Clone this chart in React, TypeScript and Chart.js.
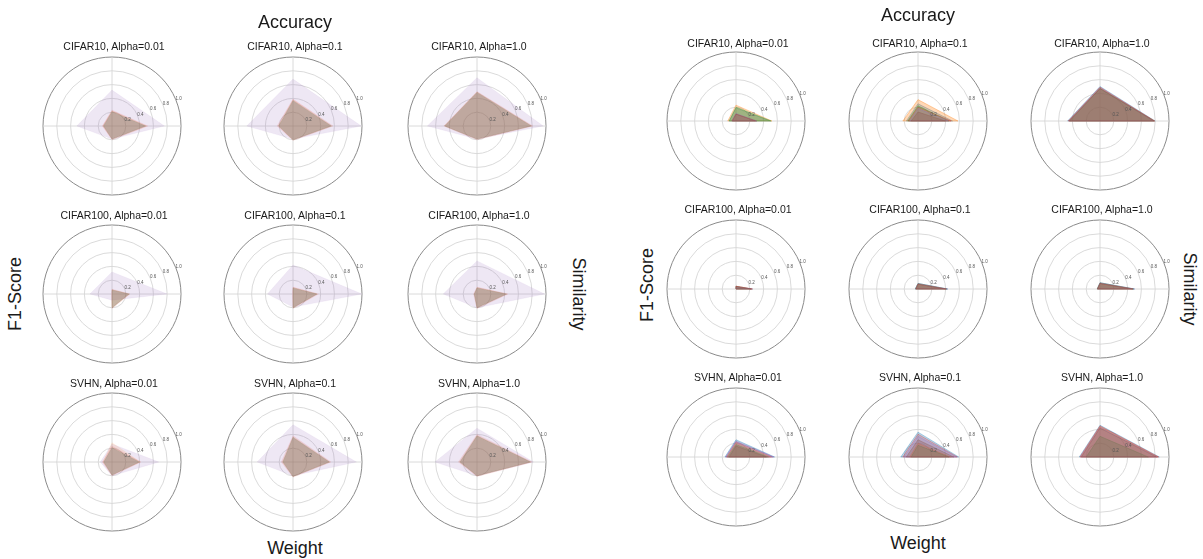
import React, { useEffect, useRef } from "react";
import { Chart, registerables } from "chart.js";

Chart.register(...registerables);

// ---------- data ----------
const AXES = ["Accuracy", "Similarity", "Weight", "F1-Score"]; // clockwise from top
const DATASET_NAMES = ["CIFAR10", "CIFAR100", "SVHN"];
const ALPHAS = ["0.01", "0.1", "1.0"];
const TICK_VALUES = [0.2, 0.4, 0.6, 0.8, 1.0];
const TICK_LABELS = ["0.2", "0.4", "0.6", "0.8", "1.0"];

// left panel series order (bottom to top): purple, blue, orange, green, red, brown
const LEFT_COLORS = ["#9467bd", "#1f77b4", "#ff7f0e", "#2ca02c", "#d62728", "#8c564b"];
// values: [Accuracy, Similarity, Weight, F1-Score]
const L_C10_001 = [
  [0.52, 0.76, 0.19, 0.51],
  [0.2, 0.48, 0.19, 0.12],
  [0.22, 0.5, 0.19, 0.13],
  [0.21, 0.49, 0.19, 0.12],
  [0.23, 0.52, 0.2, 0.14],
  [0.21, 0.49, 0.19, 0.13],
];
const L_C10_01 = [
  [0.68, 0.99, 0.19, 0.67],
  [0.36, 0.55, 0.2, 0.2],
  [0.38, 0.56, 0.2, 0.21],
  [0.37, 0.56, 0.2, 0.21],
  [0.39, 0.58, 0.21, 0.23],
  [0.37, 0.55, 0.2, 0.21],
];
const L_C10_10 = [
  [0.7, 0.96, 0.19, 0.72],
  [0.48, 0.78, 0.19, 0.46],
  [0.49, 0.79, 0.19, 0.47],
  [0.49, 0.79, 0.19, 0.47],
  [0.5, 0.81, 0.2, 0.48],
  [0.49, 0.79, 0.19, 0.47],
];
const L_C100_001 = [
  [0.32, 0.8, 0.09, 0.32],
  [0.05, 0.24, 0.2, 0.0],
  [0.06, 0.25, 0.2, 0.0],
  [0.06, 0.25, 0.2, 0.0],
  [0.07, 0.26, 0.21, 0.01],
  [0.06, 0.25, 0.2, 0.0],
];
const L_C100_01 = [
  [0.42, 1.0, 0.19, 0.37],
  [0.08, 0.34, 0.2, 0.0],
  [0.09, 0.35, 0.2, 0.0],
  [0.09, 0.35, 0.2, 0.0],
  [0.1, 0.37, 0.21, 0.01],
  [0.09, 0.35, 0.2, 0.0],
];
const L_C100_10 = [
  [0.48, 0.98, 0.2, 0.49],
  [0.08, 0.42, 0.2, 0.04],
  [0.09, 0.43, 0.2, 0.04],
  [0.09, 0.43, 0.2, 0.04],
  [0.1, 0.45, 0.21, 0.05],
  [0.09, 0.43, 0.2, 0.04],
];
const L_SVHN_001 = [
  [0.26, 0.68, 0.2, 0.17],
  [0.2, 0.39, 0.19, 0.12],
  [0.28, 0.41, 0.19, 0.13],
  [0.21, 0.4, 0.19, 0.12],
  [0.23, 0.42, 0.2, 0.14],
  [0.21, 0.4, 0.19, 0.12],
];
const L_SVHN_01 = [
  [0.54, 0.92, 0.2, 0.52],
  [0.35, 0.52, 0.21, 0.14],
  [0.36, 0.53, 0.21, 0.15],
  [0.36, 0.53, 0.21, 0.15],
  [0.38, 0.55, 0.22, 0.17],
  [0.36, 0.53, 0.21, 0.15],
];
const L_SVHN_10 = [
  [0.49, 0.82, 0.2, 0.61],
  [0.37, 0.77, 0.2, 0.24],
  [0.38, 0.78, 0.2, 0.25],
  [0.38, 0.78, 0.2, 0.25],
  [0.4, 0.8, 0.21, 0.27],
  [0.38, 0.78, 0.2, 0.25],
];

// right panel series order (bottom to top): blue, orange, green, red, purple, brown
const RIGHT_COLORS = ["#1f77b4", "#ff7f0e", "#2ca02c", "#d62728", "#9467bd", "#8c564b"];
const R_C10_001 = [
  [0.19, 0.5, 0.0, 0.1],
  [0.23, 0.52, 0.0, 0.12],
  [0.2, 0.51, 0.0, 0.1],
  [0.1, 0.28, 0.0, 0.05],
  [0.11, 0.3, 0.0, 0.06],
  [0.1, 0.3, 0.0, 0.06],
];
const R_C10_01 = [
  [0.25, 0.5, 0.0, 0.17],
  [0.31, 0.58, 0.0, 0.22],
  [0.22, 0.45, 0.0, 0.15],
  [0.2, 0.48, 0.0, 0.14],
  [0.18, 0.44, 0.0, 0.12],
  [0.13, 0.4, 0.0, 0.1],
];
const R_C10_10 = [
  [0.5, 0.8, 0.0, 0.47],
  [0.48, 0.79, 0.0, 0.45],
  [0.47, 0.78, 0.0, 0.44],
  [0.49, 0.79, 0.0, 0.46],
  [0.48, 0.78, 0.0, 0.45],
  [0.47, 0.79, 0.0, 0.45],
];
const R_C100_001 = [
  [0.04, 0.24, 0.0, 0.0],
  [0.04, 0.23, 0.0, 0.0],
  [0.03, 0.22, 0.0, 0.0],
  [0.04, 0.24, 0.0, 0.0],
  [0.03, 0.23, 0.0, 0.0],
  [0.04, 0.22, 0.0, 0.0],
];
const R_C100_01 = [
  [0.08, 0.43, 0.0, 0.04],
  [0.07, 0.41, 0.0, 0.03],
  [0.08, 0.42, 0.0, 0.04],
  [0.07, 0.4, 0.0, 0.03],
  [0.08, 0.43, 0.0, 0.04],
  [0.07, 0.41, 0.0, 0.03],
];
const R_C100_10 = [
  [0.09, 0.5, 0.0, 0.04],
  [0.08, 0.48, 0.0, 0.04],
  [0.09, 0.49, 0.0, 0.04],
  [0.08, 0.47, 0.0, 0.03],
  [0.09, 0.5, 0.0, 0.04],
  [0.08, 0.48, 0.0, 0.04],
];
const R_SVHN_001 = [
  [0.25, 0.56, 0.0, 0.16],
  [0.2, 0.5, 0.0, 0.13],
  [0.18, 0.47, 0.0, 0.12],
  [0.22, 0.53, 0.0, 0.14],
  [0.23, 0.55, 0.0, 0.15],
  [0.16, 0.44, 0.0, 0.1],
];
const R_SVHN_01 = [
  [0.36, 0.59, 0.0, 0.25],
  [0.2, 0.47, 0.0, 0.12],
  [0.17, 0.45, 0.0, 0.1],
  [0.33, 0.57, 0.0, 0.22],
  [0.3, 0.56, 0.0, 0.2],
  [0.25, 0.52, 0.0, 0.17],
];
const R_SVHN_10 = [
  [0.46, 0.86, 0.0, 0.3],
  [0.44, 0.84, 0.0, 0.28],
  [0.3, 0.7, 0.0, 0.2],
  [0.45, 0.85, 0.0, 0.29],
  [0.43, 0.83, 0.0, 0.28],
  [0.42, 0.82, 0.0, 0.27],
];

const LEFT_GRID = [
  [L_C10_001, L_C10_01, L_C10_10],
  [L_C100_001, L_C100_01, L_C100_10],
  [L_SVHN_001, L_SVHN_01, L_SVHN_10],
];
const RIGHT_GRID = [
  [R_C10_001, R_C10_01, R_C10_10],
  [R_C100_001, R_C100_01, R_C100_10],
  [R_SVHN_001, R_SVHN_01, R_SVHN_10],
];

// ---------- layout ----------
const LEFT_CX = [112, 293, 477];
const LEFT_CY = [126, 294, 462];
const RIGHT_CX = [736, 918, 1100];
const RIGHT_CY = [121, 289, 457];
const CANVAS = 150;
const PAD = 6;

const FONT = '"Liberation Sans", Arial, Helvetica, sans-serif';

function rgba(hex: string, a: number) {
  const n = parseInt(hex.slice(1), 16);
  return `rgba(${(n >> 16) & 255},${(n >> 8) & 255},${n & 255},${a})`;
}

const tickLabelPlugin = {
  id: "rTickLabels",
  afterDatasetsDraw(chart: any) {
    const s = chart.scales.r;
    const ctx = chart.ctx;
    ctx.save();
    ctx.font = `4.5px ${FONT}`;
    ctx.fillStyle = "#555";
    ctx.textAlign = "center";
    ctx.textBaseline = "middle";
    const ang = (22.5 * Math.PI) / 180;
    TICK_VALUES.forEach((v, i) => {
      const d = s.getDistanceFromCenterForValue(v) + 3;
      ctx.fillText(TICK_LABELS[i], s.xCenter + d * Math.cos(ang), s.yCenter - d * Math.sin(ang));
    });
    ctx.restore();
  },
};

type RadarProps = {
  cx: number;
  cy: number;
  series: number[][];
  colors: string[];
  fillA: number[];
  lineA: number;
  lineW: number;
};

function Radar({ cx, cy, series, colors, fillA, lineA, lineW }: RadarProps) {
  const ref = useRef<HTMLCanvasElement>(null);
  useEffect(() => {
    if (!ref.current) return;
    const chart = new Chart(ref.current, {
      type: "radar",
      data: {
        labels: AXES,
        datasets: series.map((vals, i) => ({
          data: vals,
          backgroundColor: rgba(colors[i], fillA[i]),
          borderColor: rgba(colors[i], lineA),
          borderWidth: lineW,
          pointRadius: 0,
          pointHoverRadius: 0,
          fill: true,
          tension: 0,
          // first series is drawn first (bottom), later ones on top
          order: series.length - i,
        })),
      },
      options: {
        responsive: false,
        animation: false,
        devicePixelRatio: 1,
        layout: { padding: PAD },
        plugins: { legend: { display: false }, tooltip: { enabled: false } },
        scales: {
          r: {
            min: 0,
            max: 1,
            ticks: { display: false, stepSize: 0.2 },
            pointLabels: { display: false },
            grid: {
              circular: true,
              color: (c: any) => (c.tick && c.tick.value > 0.99 ? "#8a8a8a" : "#d6d6d6"),
              lineWidth: (c: any) => (c.tick && c.tick.value > 0.99 ? 1 : 0.9),
            },
            angleLines: { color: "#d6d6d6", lineWidth: 0.9 },
          },
        },
      } as any,
      plugins: [tickLabelPlugin],
    });
    return () => chart.destroy();
  }, [series, colors, fillA, lineA, lineW]);
  return (
    <canvas
      ref={ref}
      width={CANVAS}
      height={CANVAS}
      style={{ position: "absolute", left: cx - CANVAS / 2, top: cy - CANVAS / 2, width: CANVAS, height: CANVAS }}
    />
  );
}

function Label({ x, y, text, size, rotate = 0 }: { x: number; y: number; text: string; size: number; rotate?: number }) {
  return (
    <div
      style={{
        position: "absolute",
        left: x,
        top: y,
        transform: `translate(-50%, -50%) rotate(${rotate}deg)`,
        fontFamily: FONT,
        fontSize: size,
        color: "#1a1a1a",
        whiteSpace: "nowrap",
        lineHeight: 1,
      }}
    >
      {text}
    </div>
  );
}

function Panel({
  cxs,
  cys,
  grid,
  colors,
  fillA,
  lineA,
  lineW,
  titleDy,
  big,
}: {
  cxs: number[];
  cys: number[];
  grid: number[][][][];
  colors: string[];
  fillA: number[];
  lineA: number;
  lineW: number;
  titleDy: number[];
  big: { acc: [number, number]; wt: [number, number]; f1: [number, number]; sim: [number, number] };
}) {
  const items: React.ReactNode[] = [];
  cys.forEach((cy, r) => {
    cxs.forEach((cx, c) => {
      items.push(
        <Radar key={`r${r}${c}`} cx={cx} cy={cy} series={grid[r][c]} colors={colors} fillA={fillA} lineA={lineA} lineW={lineW} />
      );
      items.push(
        <Label key={`t${r}${c}`} x={cx + 2} y={cy - titleDy[r]} text={`${DATASET_NAMES[r]}, Alpha=${ALPHAS[c]}`} size={10.5} />
      );
    });
  });
  return (
    <>
      {items}
      <Label x={big.acc[0]} y={big.acc[1]} text={AXES[0]} size={18} />
      <Label x={big.wt[0]} y={big.wt[1]} text={AXES[2]} size={18} />
      <Label x={big.f1[0]} y={big.f1[1]} text={AXES[3]} size={18} rotate={-90} />
      <Label x={big.sim[0]} y={big.sim[1]} text={AXES[1]} size={18} rotate={90} />
    </>
  );
}

const LEFT_FILL_ALPHA = [0.16, 0.12, 0.12, 0.12, 0.12, 0.12];
const RIGHT_FILL_ALPHA = [0.3, 0.3, 0.3, 0.18, 0.22, 0.3];

export default function App() {
  return (
    <div style={{ position: "absolute", left: 0, top: 0, width: 1203, height: 559, background: "#fff", overflow: "hidden" }}>
      <Panel
        cxs={LEFT_CX}
        cys={LEFT_CY}
        grid={LEFT_GRID}
        colors={LEFT_COLORS}
        fillA={LEFT_FILL_ALPHA}
        lineA={0.12}
        lineW={0.5}
        titleDy={[80, 79, 79]}
        big={{ acc: [295, 22], wt: [295, 548], f1: [15, 294], sim: [579, 294] }}
      />
      <Panel
        cxs={RIGHT_CX}
        cys={RIGHT_CY}
        grid={RIGHT_GRID}
        colors={RIGHT_COLORS}
        fillA={RIGHT_FILL_ALPHA}
        lineA={0.4}
        lineW={0.8}
        titleDy={[78, 80, 80]}
        big={{ acc: [918, 15], wt: [918, 543], f1: [647, 285], sim: [1190, 289] }}
      />
    </div>
  );
}
